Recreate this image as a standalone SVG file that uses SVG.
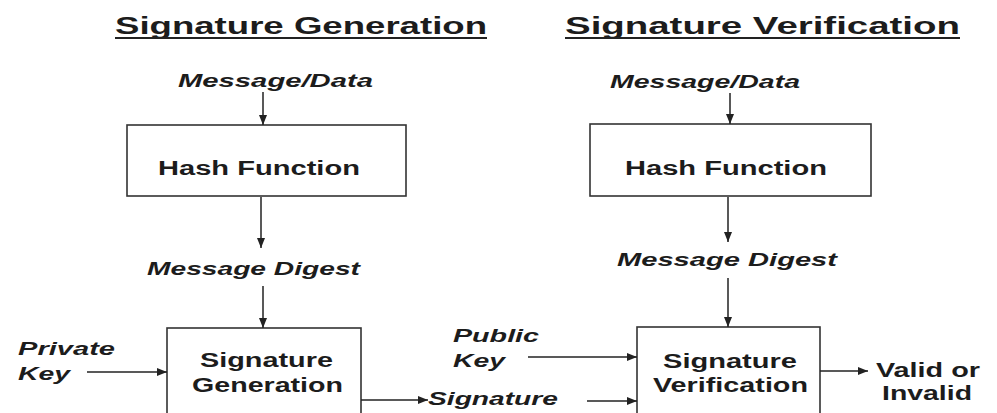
<svg xmlns="http://www.w3.org/2000/svg" width="997" height="413" viewBox="0 0 997 413">
<style>
.t{font-family:"Liberation Sans",Arial,sans-serif;font-weight:bold;fill:#1c1c1c}
.h{font-size:23px}
.i{font-style:italic;font-size:18.5px}
.b{font-size:19.5px}
.box{fill:#fff;stroke:#333;stroke-width:1.6}
.c{stroke:#222;stroke-width:1.5;fill:none;marker-end:url(#ah)}
.u{stroke:#222;stroke-width:2}
</style>
<defs>
<marker id="ah" markerUnits="userSpaceOnUse" markerWidth="10" markerHeight="8" refX="10" refY="4" orient="auto">
<path d="M0,0 L10,4 L0,8 z" fill="#222"/>
</marker>
</defs>
<rect width="997" height="413" fill="#fff"/>
<g id="title-generation">
<text class="t h" x="115" y="34" textLength="372" lengthAdjust="spacingAndGlyphs">Signature Generation</text>
<line class="u" x1="115" y1="38" x2="487" y2="38"/>
</g>
<g id="title-verification">
<text class="t h" x="565" y="34" textLength="395" lengthAdjust="spacingAndGlyphs">Signature Verification</text>
<line class="u" x1="565" y1="38" x2="960" y2="38"/>
</g>
<g id="gen-message">
<text class="t i" x="178" y="87" textLength="195" lengthAdjust="spacingAndGlyphs">Message/Data</text>
</g>
<g id="gen-hash">
<rect class="box" x="127" y="125" width="279" height="71"/>
<text class="t b" x="158" y="175" textLength="202" lengthAdjust="spacingAndGlyphs">Hash Function</text>
</g>
<g id="gen-digest">
<text class="t i" x="147" y="275" textLength="213" lengthAdjust="spacingAndGlyphs">Message Digest</text>
</g>
<g id="gen-sign">
<rect class="box" x="167" y="328" width="194" height="95"/>
<text class="t b" x="200" y="367" textLength="133" lengthAdjust="spacingAndGlyphs">Signature</text>
<text class="t b" x="192" y="392" textLength="151" lengthAdjust="spacingAndGlyphs">Generation</text>
</g>
<g id="private-key">
<text class="t i" x="18" y="355" textLength="97" lengthAdjust="spacingAndGlyphs">Private</text>
<text class="t i" x="18" y="380" textLength="52" lengthAdjust="spacingAndGlyphs">Key</text>
</g>
<g id="signature">
<text class="t i" x="428" y="405" textLength="130" lengthAdjust="spacingAndGlyphs">Signature</text>
</g>
<g id="ver-message">
<text class="t i" x="610" y="88" textLength="190" lengthAdjust="spacingAndGlyphs">Message/Data</text>
</g>
<g id="ver-hash">
<rect class="box" x="590" y="124" width="281" height="72"/>
<text class="t b" x="625" y="175" textLength="202" lengthAdjust="spacingAndGlyphs">Hash Function</text>
</g>
<g id="ver-digest">
<text class="t i" x="617" y="266" textLength="220" lengthAdjust="spacingAndGlyphs">Message Digest</text>
</g>
<g id="public-key">
<text class="t i" x="453" y="342" textLength="86" lengthAdjust="spacingAndGlyphs">Public</text>
<text class="t i" x="453" y="367" textLength="52" lengthAdjust="spacingAndGlyphs">Key</text>
</g>
<g id="ver-sign">
<rect class="box" x="637" y="327" width="183" height="96"/>
<text class="t b" x="663" y="368" textLength="134" lengthAdjust="spacingAndGlyphs">Signature</text>
<text class="t b" x="653" y="392" textLength="155" lengthAdjust="spacingAndGlyphs">Verification</text>
</g>
<g id="result">
<text class="t b" x="876" y="377" textLength="104" lengthAdjust="spacingAndGlyphs">Valid or</text>
<text class="t b" x="882" y="400" textLength="90" lengthAdjust="spacingAndGlyphs">Invalid</text>
</g>
<g id="connectors">
<line class="c" x1="263" y1="92" x2="263" y2="125"/>
<line class="c" x1="261" y1="197" x2="261" y2="248"/>
<line class="c" x1="263" y1="286" x2="263" y2="328"/>
<line class="c" x1="87" y1="372" x2="167" y2="372"/>
<line class="c" x1="361" y1="400" x2="428" y2="400"/>
<line class="c" x1="730" y1="93" x2="730" y2="124"/>
<line class="c" x1="728" y1="197" x2="728" y2="242"/>
<line class="c" x1="728" y1="278" x2="728" y2="327"/>
<line class="c" x1="528" y1="357" x2="637" y2="357"/>
<line class="c" x1="587" y1="401" x2="637" y2="401"/>
<line class="c" x1="820" y1="371" x2="868" y2="371"/>
</g>
</svg>
